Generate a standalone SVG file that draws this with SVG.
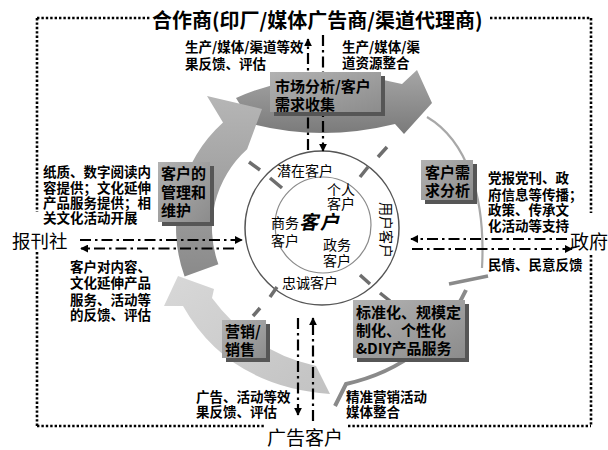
<svg xmlns="http://www.w3.org/2000/svg" width="608" height="450" viewBox="0 0 608 450">
<defs>
  <linearGradient id="gTop" x1="0" y1="0" x2="0" y2="1"><stop offset="0" stop-color="#a6a6a6"/><stop offset="1" stop-color="#7a7a7a"/></linearGradient>
  <linearGradient id="gLeft" x1="0" y1="0" x2="0" y2="1"><stop offset="0" stop-color="#b6b6b6"/><stop offset="1" stop-color="#8a8a8a"/></linearGradient>
  <linearGradient id="gBot" x1="0" y1="0" x2="1" y2="1"><stop offset="0" stop-color="#d8d8d8"/><stop offset="1" stop-color="#c2c2c2"/></linearGradient>
  <linearGradient id="gBox" x1="0" y1="0" x2="1" y2="1"><stop offset="0" stop-color="#b2b2b2"/><stop offset="1" stop-color="#8c8c8c"/></linearGradient>
  <marker id="ah" viewBox="0 0 10 10" refX="9" refY="5" markerWidth="8" markerHeight="8" markerUnits="userSpaceOnUse" orient="auto"><path d="M0,0 L10,5 L0,10 Z" fill="#000"/></marker>
</defs>
<style>
  .frame{fill:none;stroke:#000;stroke-width:2.6;stroke-dasharray:2.4 2}
  .dd{fill:none;stroke:#000;stroke-width:2.2;stroke-dasharray:11 4 2.5 4}
  .t{font-family:"Noto Sans CJK SC","Noto Sans CJK JP",sans-serif;fill:#000}
  .lbl{font-size:13.5px;font-weight:bold}
  .bt{font-size:15px;font-weight:bold}
  .ct{font-size:14px}
  .big{font-size:19px}
  .bx{fill:url(#gBox)}
  .sh{fill:#565656}
  .rad{stroke:#6e6e6e;stroke-width:3.5;fill:none}
</style>
<rect width="608" height="450" fill="#fff"/>

<g id="frame">
  <path class="frame" d="M37,18 H150 M490,18 H591 M37,18 V212 M37,252 V426 M591,18 V213 M591,255 V426 M37,426 H265 M348,426 H591"/>
</g>

<g id="cycle">
  <path d="M236,98 Q318,62 402,84 L417,70 L432,103 L404,134 L395,124 Q322,142 252,124 Z" fill="url(#gTop)"/>
  <path d="M330,394 Q228,386 183,306 L164,306 L178,276 L214,289 L212,298 Q252,352 316,366 Z" fill="url(#gBot)"/>
  <path d="M184.6,276.6 A142 142 0 0 1 223,122.5 L207,96 L262,109 L247.1,149.2 A106 106 0 0 0 218.4,264.3 Z" fill="url(#gLeft)"/>
  <path d="M427,117 C466,140 486,195 482,268" fill="none" stroke="#a8a8a8" stroke-width="2.2"/>
  <path d="M449,284 L488,276" stroke="#8a8a8a" stroke-width="3.5"/>
  <path d="M466,290 Q430,365 346,384 L335,406" fill="none" stroke="#8a8a8a" stroke-width="4"/>
</g>

<g id="rings">
  <circle cx="322" cy="228" r="77" fill="#fff" stroke="#555" stroke-width="1.5"/>
  <circle cx="323" cy="225" r="48" fill="none" stroke="#8a8a8a" stroke-width="1.2"/>
  <path class="rad" d="M282,188 L270,178 M260,170 L249,162 M360,177 L368,167 M378,157 L387,147 M360,275 L370,284 M380,293 L390,301 M277,287 L270,297 M260,308 L253,316"/>
</g>

<g id="connectors">
  <path class="dd" d="M308,150 V39" marker-end="url(#ah)"/>
  <path class="dd" d="M323,35 V151" marker-end="url(#ah)"/>
  <path class="dd" d="M298,318 V415" marker-end="url(#ah)"/>
  <path class="dd" d="M313,421 V318" marker-end="url(#ah)"/>
  <path class="dd" d="M80,240 H242" marker-end="url(#ah)"/>
  <path class="dd" d="M234,248.5 H81" marker-end="url(#ah)"/>
  <path class="dd" d="M567,239 H411" marker-end="url(#ah)"/>
  <path class="dd" d="M412,249 H572" marker-end="url(#ah)"/>
</g>

<g id="box-market">
  <rect class="sh" x="274" y="76" width="111" height="40"/>
  <rect class="bx" x="270" y="72" width="111" height="40"/>
  <text class="t bt" x="275" y="92">市场分析/客户</text>
  <text class="t bt" x="275" y="110">需求收集</text>
</g>
<g id="box-manage">
  <rect class="sh" x="162" y="166" width="52" height="60"/>
  <rect class="bx" x="158" y="162" width="52" height="60"/>
  <text class="t bt" x="161" y="179">客户的</text>
  <text class="t bt" x="161" y="198">管理和</text>
  <text class="t bt" x="161" y="216">维护</text>
</g>
<g id="box-demand">
  <rect class="sh" x="425" y="164" width="52" height="40"/>
  <rect class="bx" x="421" y="160" width="52" height="40"/>
  <text class="t bt" x="425" y="178">客户需</text>
  <text class="t bt" x="425" y="196">求分析</text>
</g>
<g id="box-product">
  <rect class="sh" x="357" y="304" width="112" height="58"/>
  <rect class="bx" x="353" y="300" width="112" height="58"/>
  <text class="t bt" x="356" y="318">标准化、规模定</text>
  <text class="t bt" x="356" y="336">制化、个性化</text>
  <text class="t bt" x="356" y="354">&amp;DIY产品服务</text>
</g>
<g id="box-sales">
  <rect class="sh" x="226" y="324" width="44" height="38"/>
  <rect class="bx" x="222" y="320" width="44" height="38"/>
  <text class="t bt" x="225" y="337">营销/</text>
  <text class="t bt" x="225" y="355">销售</text>
</g>

<g id="customers">
  <text class="t ct" x="305" y="176" text-anchor="middle">潜在客户</text>
  <text class="t ct" x="341" y="195" text-anchor="middle">个人</text>
  <text class="t ct" x="341" y="209" text-anchor="middle">客户</text>
  <text class="t ct" x="285" y="228" text-anchor="middle">商务</text>
  <text class="t ct" x="285" y="246" text-anchor="middle">客户</text>
  <text class="t big" x="320" y="229" text-anchor="middle" font-weight="bold" font-style="italic" letter-spacing="2">客户</text>
  <text class="t ct" x="337" y="250" text-anchor="middle">政务</text>
  <text class="t ct" x="337" y="266" text-anchor="middle">客户</text>
  <text class="t ct" x="310" y="288" text-anchor="middle">忠诚客户</text>
  <text class="t ct" transform="translate(386,230) rotate(90)" text-anchor="middle" y="5">用户客户</text>
</g>

<g id="partner">
  <text class="t" x="152" y="27.5" font-size="20" font-weight="bold">合作商(印厂/媒体广告商/渠道代理商)</text>
</g>
<g id="newspaper">
  <text class="t" x="12" y="248" font-size="18.5">报刊社</text>
</g>
<g id="government">
  <text class="t" x="570" y="249" font-size="19">政府</text>
</g>
<g id="advertiser">
  <text class="t" x="305" y="445" font-size="19" text-anchor="middle">广告客户</text>
</g>

<g id="labels">
  <text class="t lbl" x="185" y="52">生产/媒体/渠道等效</text>
  <text class="t lbl" x="185" y="69">果反馈、评估</text>
  <text class="t lbl" x="342" y="52">生产/媒体/渠</text>
  <text class="t lbl" x="342" y="68">道资源整合</text>
  <text class="t lbl" x="43" y="177">纸质、数字阅读内</text>
  <text class="t lbl" x="43" y="193">容提供；文化延伸</text>
  <text class="t lbl" x="43" y="208">产品服务提供；相</text>
  <text class="t lbl" x="43" y="223">关文化活动开展</text>
  <text class="t lbl" x="70" y="272">客户对内容、</text>
  <text class="t lbl" x="70" y="288">文化延伸产品</text>
  <text class="t lbl" x="70" y="305">服务、活动等</text>
  <text class="t lbl" x="70" y="320">的反馈、评估</text>
  <text class="t lbl" x="488" y="183">党报党刊、政</text>
  <text class="t lbl" x="488" y="200">府信息等传播；</text>
  <text class="t lbl" x="488" y="215">政策、传承文</text>
  <text class="t lbl" x="488" y="231">化活动等支持</text>
  <text class="t lbl" x="488" y="270">民情、民意反馈</text>
  <text class="t lbl" x="196" y="402">广告、活动等效</text>
  <text class="t lbl" x="196" y="417">果反馈、评估</text>
  <text class="t lbl" x="346" y="402">精准营销活动</text>
  <text class="t lbl" x="346" y="417">媒体整合</text>
</g>
</svg>
